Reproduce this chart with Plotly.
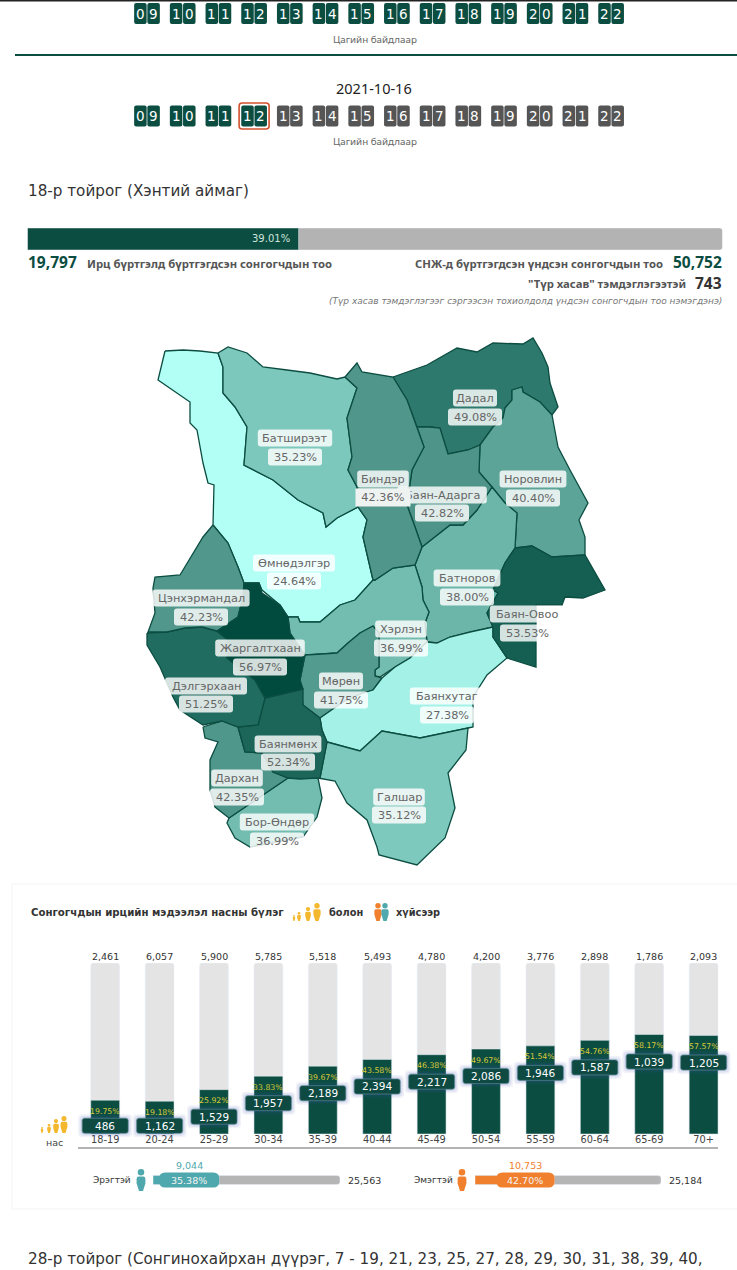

# 18-р тойрог (Хэнтий аймаг) - ирцийн хуудас

import plotly.graph_objects as go
from plotly.colors import sample_colorscale

W, H = 737, 1270
GREEN = "#0b4d41"
BODY = "DejaVu Sans"
TOP = "Noto Sans"

hours = ["09", "10", "11", "12", "13", "14", "15", "16", "17", "18", "19", "20", "21", "22"]
selected_hour = "12"
report_date = "2021-10-16"

district_title = "18-р тойрог (Хэнтий аймаг)"
next_title = "28-р тойрог (Сонгинохайрхан дүүрэг, 7 - 19, 21, 23, 25, 27, 28, 29, 30, 31, 38, 39, 40,"
registered = 19797
voters_total = 50752
temp_removed = 743

soum_names = ["Өмнөдэлгэр", "Батширээт", "Дадал", "Норовлин", "Батноров", "Хэрлэн", "Мөрөн", "Баянхутаг",
              "Галшар", "Бор-Өндөр", "Дархан", "Баянмөнх", "Дэлгэрхаан", "Цэнхэрмандал", "Жаргалтхаан",
              "Баян-Овоо", "Баян-Адарга", "Биндэр"]
soum_pct = [24.64, 35.23, 49.08, 40.40, 38.00, 36.99, 41.75, 27.38,
            35.12, 36.99, 42.35, 52.34, 51.25, 42.23, 56.97,
            53.53, 42.82, 42.36]

# сумдын хил (зургийн цэгээр уншсан)
soum_outlines = [
    [(165,351),(183,350),(200,351),(218,353),(223,367),(223,393),(235,407),(247,427),(244,465),(273,480),(298,500),
     (323,513),(326,527),(337,518),(358,507),(367,520),(363,537),(373,580),(355,600),(340,605),(320,622),(300,622),
     (298,617),(288,617),(280,605),(262,590),(259,583),(244,583),(238,567),(228,543),(213,525),(214,485),(208,483),
     (203,463),(197,430),(190,423),(190,402),(158,380)],
    [(218,353),(228,347),(247,353),(263,367),(287,370),(310,373),(337,379),(345,377),(357,388),(347,418),(352,457),
     (348,470),(357,487),(358,507),(337,518),(326,527),(323,513),(298,500),(273,480),(244,465),(247,427),(235,407),
     (223,393),(223,367)],
    [(393,377),(427,365),(457,348),(477,352),(493,343),(523,344),(533,338),(542,353),(548,367),(550,383),(558,407),
     (552,415),(540,402),(523,392),(522,387),(512,390),(512,400),(505,408),(503,418),(493,427),(480,445),(468,450),
     (448,454),(440,428),(430,427),(417,427),(407,400)],
    [(512,390),(522,387),(523,392),(540,402),(552,415),(558,447),(570,470),(588,503),(579,520),(585,537),(585,555),
     (552,557),(532,546),(515,548),(517,513),(505,503),(492,487),(479,472),(480,445),(493,427),(503,418),(505,408),
     (512,400)],
    [(492,487),(505,503),(517,513),(515,548),(505,563),(493,590),(498,593),(487,613),(493,627),(470,632),(450,637),
     (437,643),(427,642),(425,623),(429,612),(423,600),(422,587),(415,565),(422,547),(450,525),(463,525),(477,510)],
    [(373,580),(375,580),(393,568),(412,565),(415,565),(422,587),(423,600),(429,612),(425,623),(427,642),(410,658),
     (395,667),(380,677),(375,676),(375,670),(379,667),(379,633),(373,626),(360,633),(348,643),(337,653),(305,655),
     (290,633),(288,617),(298,617),(300,622),(320,622),(340,605),(355,600)],
    [(373,626),(379,633),(379,667),(375,670),(375,676),(380,677),(382,678),(373,690),(363,693),(343,702),(320,718),
     (303,705),(300,680),(305,655),(337,653),(348,643),(360,633)],
    [(493,627),(493,637),(507,658),(487,675),(473,697),(473,727),(468,728),(420,738),(382,731),(360,751),(327,742),
     (322,730),(320,718),(343,702),(363,693),(373,690),(382,678),(395,667),(410,658),(427,642),(437,643),(450,637),
     (470,632)],
    [(327,742),(360,751),(382,731),(420,738),(468,728),(466,750),(448,773),(455,808),(445,838),(417,865),(379,855),
     (377,847),(367,820),(347,803),(335,781),(318,778),(320,778)],
    [(288,778),(318,778),(322,798),(317,817),(303,837),(250,847),(235,838),(227,823),(229,818)],
    [(203,727),(222,721),(238,727),(245,752),(262,753),(273,772),(288,778),(229,818),(215,807),(210,790),(210,760),
     (218,742),(205,738)],
    [(238,727),(258,725),(265,698),(303,689),(303,705),(320,718),(322,730),(327,742),(320,778),(300,779),(288,778),
     (273,772),(262,753),(245,752)],
    [(147,633),(147,645),(160,667),(173,697),(180,710),(203,725),(222,721),(238,727),(258,725),(265,698),(255,680),
     (227,658),(228,640),(217,631),(202,627),(185,628),(167,632)],
    [(213,525),(228,543),(238,567),(244,583),(243,597),(238,617),(217,631),(202,627),(185,628),(167,632),(148,632),
     (155,613),(153,588),(155,577),(180,575),(203,537)],
    [(244,583),(259,583),(262,593),(280,605),(288,617),(290,633),(305,655),(300,680),(303,689),(265,698),(255,680),
     (227,658),(228,640),(217,631),(238,617),(243,597)],
    [(515,548),(532,546),(552,557),(585,555),(605,590),(583,598),(565,597),(562,605),(536,605),(536,667),(507,658),
     (493,637),(493,627),(487,613),(498,593),(493,590),(505,563)],
    [(417,427),(430,427),(440,428),(448,454),(468,450),(480,445),(479,472),(492,487),(477,510),(463,525),(450,525),
     (422,547),(415,527),(407,505),(412,470),(424,447)],
    [(345,377),(357,363),(362,372),(393,377),(407,400),(417,427),(424,447),(412,470),(407,505),(415,527),(422,547),
     (415,565),(393,568),(375,580),(373,580),(363,537),(367,520),(358,507),(357,487),(348,470),(352,457),(347,418),
     (357,388)],
]

# шошгын байрлал: нэр, хувь
label_x = [294, 295, 475, 533, 467, 401, 341, 447, 399, 277, 237, 288, 206, 201, 260, 527, 442, 383]
name_y = [563, 438, 398, 479, 578, 629, 681, 696, 797, 822, 778, 744, 686, 598, 648, 614, 495, 479]
value_y = [581, 457, 417, 498, 597, 648, 700, 715, 815, 841, 797, 762, 704, 617, 667, 633, 513, 497]

age_groups = ["18-19", "20-24", "25-29", "30-34", "35-39", "40-44", "45-49", "50-54", "55-59", "60-64", "65-69", "70+"]
age_total = [2461, 6057, 5900, 5785, 5518, 5493, 4780, 4200, 3776, 2898, 1786, 2093]
age_voted = [486, 1162, 1529, 1957, 2189, 2394, 2217, 2086, 1946, 1587, 1039, 1205]
age_pct = [19.75, 19.18, 25.92, 33.83, 39.67, 43.58, 46.38, 49.67, 51.54, 54.76, 58.17, 57.57]
age_full = [100] * 12

male_voted, male_total, male_pct = 9044, 25563, 35.38
female_voted, female_total, female_pct = 10753, 25184, 42.70


def dom_x(a, b):
    return [a / W, b / W]


def dom_y(top, bottom):
    return [1 - bottom / H, 1 - top / H]


def round_rect(w, h, r, off=0):
    l, t, R, b = off - w / 2, -h / 2, off + w / 2, h / 2
    return (f"M {l+r} {t} L {R-r} {t} Q {R} {t} {R} {t+r} L {R} {b-r} Q {R} {b} {R-r} {b} "
            f"L {l+r} {b} Q {l} {b} {l} {b-r} L {l} {t+r} Q {l} {t} {l+r} {t} Z")


shapes = []
notes = []


def chip(x, y, w, h, r, fill, xref="x", yref="y", line=None, lw=1, off=0, opacity=1):
    shapes.append(dict(type="path", path=round_rect(w, h, r, off), xref=xref, yref=yref,
                       xsizemode="pixel", ysizemode="pixel", xanchor=x, yanchor=y,
                       fillcolor=fill, opacity=opacity,
                       line=dict(color=line or fill, width=lw if line else 0)))


def label(x, y, text, size, color, anchor="center", family=BODY, xref="x", yref="y", xshift=0, yshift=0, **extra):
    nudge = {"left": -2, "right": 2, "center": 0}[anchor]
    notes.append(dict(x=x, y=y, text=text, xref=xref, yref=yref, xanchor=anchor, yanchor="middle",
                      xshift=xshift + nudge, yshift=yshift, showarrow=False,
                      font=dict(size=size, color=color, family=family), **extra))


def person(cx, top, bottom, color):
    h = bottom - top
    hr = h * 0.15
    bw = h * 0.2
    shapes.append(dict(type="circle", x0=cx - hr, x1=cx + hr, y0=top, y1=top + 2 * hr, xref="x", yref="y",
                       fillcolor=color, line=dict(width=0)))
    s = top + 2.3 * hr
    shapes.append(dict(type="path", xref="x", yref="y", fillcolor=color, line=dict(width=0),
                       path=(f"M {cx-bw*0.6} {s} L {cx+bw*0.6} {s} Q {cx+bw} {s} {cx+bw} {s+h*0.12} "
                             f"L {cx+bw} {s+h*0.3} L {cx+bw*0.45} {bottom} L {cx-bw*0.45} {bottom} "
                             f"L {cx-bw} {s+h*0.3} L {cx-bw} {s+h*0.12} Q {cx-bw} {s} {cx-bw*0.6} {s} Z")))


fig = go.Figure()

# газрын зураг
scale = [[0, "rgb(178,255,246)"], [0.33, "rgb(125,200,188)"], [0.55, "rgb(80,150,138)"],
         [0.76, "rgb(45,120,108)"], [1, "rgb(0,75,62)"]]
low, high = min(soum_pct), max(soum_pct)
for name, pct, outline in zip(soum_names, soum_pct, soum_outlines):
    fig.add_trace(go.Scatter(
        x=[p[0] for p in outline] + [outline[0][0]],
        y=[p[1] for p in outline] + [outline[0][1]],
        mode="lines", fill="toself", name=name, xaxis="x", yaxis="y",
        fillcolor=sample_colorscale(scale, (pct - low) / (high - low))[0],
        line=dict(color=GREEN, width=1.3),
    ))

for name, pct, x, ny, vy in zip(soum_names, soum_pct, label_x, name_y, value_y):
    value = f"{pct:.2f}%"
    chip(x, ny, len(name) * 7.6 + 6, 17, 3, "#ffffff", opacity=0.82)
    chip(x, vy, 54, 17, 3, "#ffffff", opacity=0.82)
    label(x, ny, name, 11.3, "#666666")
    # Биндэр-ийн хувь Баян-Адарга-г дарж харагддаг
    if name == "Биндэр":
        label(x, vy, value, 11.3, "#666666", bgcolor="#eef2f1", width=52, height=15)
    else:
        label(x, vy, value, 11.3, "#666666")

# нүүрний дээд хэсэг
shapes.append(dict(type="line", x0=0, x1=W, y0=0.5, y1=0.5, xref="x", yref="y", line=dict(color="#222222", width=2)))
shapes.append(dict(type="line", x0=15, x1=W, y0=55, y1=55, xref="x", yref="y", line=dict(color=GREEN, width=2)))
for row_y, caption_y, active_all in [(13.5, 39.5, True), (116, 141.5, False)]:
    for i, hour in enumerate(hours):
        cx = 147 + 35.7 * i
        on = active_all or int(hour) <= int(selected_hour)
        fill = GREEN if on else "#555555"
        for off, digit in [(-6.6, hour[0]), (6.6, hour[1])]:
            chip(cx + off, row_y, 12.5, 21, 2, fill)
            label(cx + off, row_y, digit, 13.5, "#ffffff", family=BODY)
    label(375, caption_y, "Цагийн байдлаар", 9.8, "#666666", family=TOP)
chip(147 + 35.7 * hours.index(selected_hour), 116, 30, 26, 3, "rgba(0,0,0,0)", line="#d2502a", lw=1.6)
label(374, 88, report_date, 14.5, "#222222", family=TOP)

label(28, 191, district_title, 15.2, "#333333", anchor="left")

# ирцийн ерөнхий зурвас
pct_total = registered / voters_total * 100
fig.add_trace(go.Bar(x=[voters_total], y=[0], orientation="h", width=1, xaxis="x3", yaxis="y3",
                     marker=dict(color="#b3b3b3", cornerradius=3)))
fig.add_trace(go.Bar(x=[registered], y=[0], orientation="h", width=1, xaxis="x3", yaxis="y3",
                     marker=dict(color=GREEN, cornerradius=3)))
label(registered, 0, f"{pct_total:.2f}%", 10, "#cfe3dc", anchor="right", xref="x3", yref="y3", xshift=-9)
label(28, 262, f"<b>{registered:,}</b>", 15.5, GREEN, anchor="left", family=TOP)
label(87, 263, "<b>Ирц бүртгэлд бүртгэгдсэн сонгогчдын тоо</b>", 11.3, "#555555", anchor="left", family=TOP)
label(722, 262, f"<b>{voters_total:,}</b>", 15.5, GREEN, anchor="right", family=TOP)
label(663, 263, "<b>СНЖ-д бүртгэгдсэн үндсэн сонгогчдын тоо</b>", 11.3, "#555555", anchor="right", family=TOP)
label(722, 283, f"<b>{temp_removed}</b>", 15.5, "#333333", anchor="right", family=TOP)
label(686, 283, '<b>"Түр хасав" тэмдэглэгээтэй</b>', 11.3, "#555555", anchor="right", family=TOP)
label(722, 301, "<i>(Түр хасав тэмдэглэгээг сэргээсэн тохиолдолд үндсэн сонгогчдын тоо нэмэгдэнэ)</i>",
      9, "#777777", anchor="right")

# насны бүлгийн хэсэг
shapes.append(dict(type="rect", x0=12, x1=W + 5, y0=884, y1=1209, xref="x", yref="y", layer="below",
                   fillcolor="#ffffff", line=dict(color="#f3f3f3", width=1)))
shapes.append(dict(type="line", x0=78, x1=718, y0=1148, y1=1148, xref="x", yref="y",
                   line=dict(color="#666666", width=1)))
label(31, 912, "<b>Сонгогчдын ирцийн мэдээлэл насны бүлэг</b>", 10.2, "#333333", anchor="left")
label(329, 912, "<b>болон</b>", 9.8, "#333333", anchor="left")
label(396, 912, "<b>хүйсээр</b>", 9.8, "#333333", anchor="left")
for cx, h in [(294, 6), (299, 9), (308, 14), (317, 18)]:
    person(cx, 921 - h, 921, "#f4b82e")
for cx, h in [(42, 6), (49, 9), (56, 14), (64, 17)]:
    person(cx, 1133 - h, 1133, "#f4b82e")
person(378, 903, 921, "#f0802e")
person(385, 903, 921, "#4fa8ae")
label(54, 1142, "нас", 9.5, "#444444")

fig.add_trace(go.Bar(x=age_groups, y=age_full, width=0.53, xaxis="x2", yaxis="y2",
                     marker=dict(color="#e4e4e4", cornerradius=3)))
fig.add_trace(go.Bar(x=age_groups, y=age_pct, width=0.53, xaxis="x2", yaxis="y2",
                     marker=dict(color=GREEN, cornerradius=3)))
for group, total, voted, pct in zip(age_groups, age_total, age_voted, age_pct):
    label(group, 100, f"{total:,}", 9.5, "#333333", xref="x2", yref="y2", yshift=7)
    label(group, pct, f"{pct:.2f}%", 7.8, "#d8c93a", xref="x2", yref="y2", yshift=-11)
    chip_y = max(pct - 15.8, 4.8)
    for grow, alpha in [(8, 0.07), (5, 0.10), (2, 0.18)]:
        chip(group, chip_y, 46 + grow, 15 + grow, 4, "#3c4fb0", xref="x2", yref="y2", opacity=alpha)
    chip(group, chip_y, 46, 15, 2.5, "#0e4a42", xref="x2", yref="y2", line="#5f8f95", lw=0.6)
    label(group, chip_y, f"{voted:,}", 10.5, "#ffffff", xref="x2", yref="y2")

# эрэгтэй, эмэгтэй
for xa, ya, voted, total, pct, color, chip_w, label_text, name_right, total_x in [
    ("x4", "y4", male_voted, male_total, male_pct, "#4fa8ae", 60, "Эрэгтэй", 131, 348),
    ("x5", "y5", female_voted, female_total, female_pct, "#f0802e", 58, "Эмэгтэй", 453, 669),
]:
    fig.add_trace(go.Bar(x=[total], y=[0], orientation="h", width=0.45, xaxis=xa, yaxis=ya,
                         marker=dict(color="#b5b5b5", cornerradius=3)))
    fig.add_trace(go.Bar(x=[voted], y=[0], orientation="h", width=0.45, xaxis=xa, yaxis=ya,
                         marker=dict(color=color, cornerradius=3)))
    chip(voted, 0, chip_w, 15, 6, color, xref=xa, yref=ya, off=-chip_w / 2)
    label(voted, 0, f"{pct:.2f}%", 9.5, "#f4f4f4", xref=xa, yref=ya, xshift=-chip_w / 2)
    label(voted, 0, f"{voted:,}", 9.5, color, xref=xa, yref=ya, xshift=-chip_w / 2, yshift=15)
    label(name_right, 1180, label_text, 9, "#333333", anchor="right")
    label(total_x, 1180, f"{total:,}", 9.5, "#333333", anchor="left")
person(141, 1169, 1191, "#4fa8ae")
person(462, 1169, 1191, "#f0802e")

label(28, 1259, next_title, 15.2, "#333333", anchor="left")

hidden = dict(visible=False, fixedrange=True)
fig.update_layout(
    width=W, height=H, margin=dict(l=0, r=0, t=0, b=0), autosize=False,
    paper_bgcolor="white", plot_bgcolor="rgba(0,0,0,0)", showlegend=False, barmode="overlay",
    xaxis=dict(domain=[0, 1], range=[0, W], **hidden),
    yaxis=dict(domain=[0, 1], range=[H, 0], **hidden),
    xaxis2=dict(domain=dom_x(78, 735), range=[-0.5, 11.577], anchor="y2", type="category", showgrid=False,
                showline=False, ticks="", ticklabelposition="inside",
                tickfont=dict(size=9.8, color="#444444", family=BODY), fixedrange=True),
    yaxis2=dict(domain=dom_y(963, 1148), range=[-8.19, 100], anchor="x2", **hidden),
    xaxis3=dict(domain=dom_x(27.5, 722.5), range=[0, voters_total], anchor="y3", **hidden),
    yaxis3=dict(domain=dom_y(228, 250), range=[-0.5, 0.5], anchor="x3", **hidden),
    xaxis4=dict(domain=dom_x(153, 340), range=[0, male_total], anchor="y4", **hidden),
    yaxis4=dict(domain=dom_y(1170, 1190), range=[-0.5, 0.5], anchor="x4", **hidden),
    xaxis5=dict(domain=dom_x(475, 661), range=[0, female_total], anchor="y5", **hidden),
    yaxis5=dict(domain=dom_y(1170, 1190), range=[-0.5, 0.5], anchor="x5", **hidden),
    shapes=shapes, annotations=notes,
)

fig.write_html("out.html", config=dict(displayModeBar=False),
               post_script="document.body.style.margin='0';document.body.style.overflow='hidden';")
